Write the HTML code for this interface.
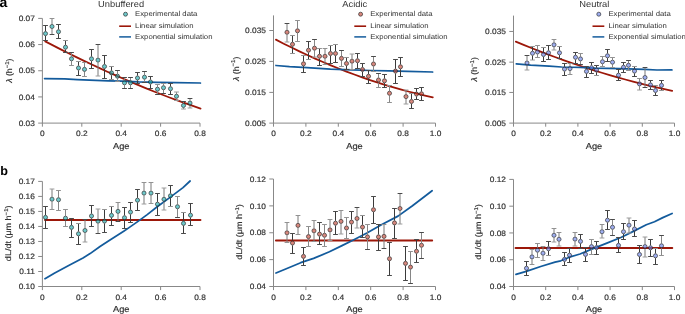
<!DOCTYPE html><html><head><meta charset="utf-8"><style>html,body{margin:0;padding:0;background:#fff;width:685px;height:314px;overflow:hidden}svg{display:block;will-change:transform}text{font-family:"Liberation Sans",sans-serif;text-rendering:geometricPrecision}</style></head><body>
<svg width="685" height="314" viewBox="0 0 685 314">
<rect width="685" height="314" fill="#fff"/>
<g fill="#000" font-weight="bold">
<text transform="translate(-0.40,6.80)" font-size="14.0">a</text>
<text transform="translate(0.20,175.10)" font-size="12.6">b</text>
</g>
<g stroke="#888888" stroke-width="1" fill="none">
<path d="M42.4,18.4V123.1M41.9,123.1H200.0"/>
<path d="M42.40,123.1v3.6"/>
<path d="M81.80,123.1v3.6"/>
<path d="M121.20,123.1v3.6"/>
<path d="M160.60,123.1v3.6"/>
<path d="M200.00,123.1v3.6"/>
<path d="M42.4,123.10h-4.2"/>
<path d="M42.4,96.92h-4.2"/>
<path d="M42.4,70.75h-4.2"/>
<path d="M42.4,44.57h-4.2"/>
<path d="M42.4,18.40h-4.2"/>
</g>
<g fill="#333333" stroke="#333333" stroke-width="0.18">
<text transform="translate(42.40,136.30) scale(1.07,1)" text-anchor="middle" font-size="7.8">0</text>
<text transform="translate(81.80,136.30) scale(1.07,1)" text-anchor="middle" font-size="7.8">0.2</text>
<text transform="translate(121.20,136.30) scale(1.07,1)" text-anchor="middle" font-size="7.8">0.4</text>
<text transform="translate(160.60,136.30) scale(1.07,1)" text-anchor="middle" font-size="7.8">0.6</text>
<text transform="translate(200.00,136.30) scale(1.07,1)" text-anchor="middle" font-size="7.8">0.8</text>
<text transform="translate(34.90,125.80) scale(1.07,1)" text-anchor="end" font-size="7.8">0.03</text>
<text transform="translate(34.90,99.62) scale(1.07,1)" text-anchor="end" font-size="7.8">0.04</text>
<text transform="translate(34.90,73.45) scale(1.07,1)" text-anchor="end" font-size="7.8">0.05</text>
<text transform="translate(34.90,47.27) scale(1.07,1)" text-anchor="end" font-size="7.8">0.06</text>
<text transform="translate(34.90,21.10) scale(1.07,1)" text-anchor="end" font-size="7.8">0.07</text>
<text transform="translate(121.20,148.60) scale(1.08,1)" text-anchor="middle" font-size="8.6">Age</text>
<text transform="translate(12.20,70.70) rotate(-90) scale(1.07,1)" text-anchor="middle" font-size="8.2"><tspan font-style="italic">λ</tspan> (h<tspan font-size="5.6" dy="-3.1">−1</tspan><tspan dy="3.1">)</tspan></text>
</g>
<path d="M45.20,41.35L52.97,45.40L60.74,49.37L68.51,53.27L76.28,57.10L84.05,60.86L91.82,64.55L99.59,68.16L107.36,71.70L115.13,75.17L122.90,78.57L130.67,81.90L138.44,85.15L146.21,88.33L153.98,91.44L161.75,94.48L169.52,97.45L177.29,100.34L185.06,103.16L192.83,105.92L200.60,108.59" stroke="#9c1709" stroke-width="1.75" stroke-linecap="round" stroke-linejoin="round" fill="none"/><path d="M44.6,78.6L64.8,78.9L77.2,79.6L89.6,80.1L108.2,80.8L121.9,81.1L138.6,81.9L157.2,82.3L175.8,82.6L200.4,83.0" stroke="#135b9c" stroke-width="1.75" stroke-linecap="round" stroke-linejoin="round" fill="none"/>
<path d="M45.5,25.5V31.25M45.5,35.95V40.5" stroke="#3a3a3a" stroke-width="1" fill="none"/>
<path d="M43.10,25.5h4.8" stroke="#4a4a4a" stroke-width="1" fill="none"/>
<path d="M43.10,40.5h4.8" stroke="#4a4a4a" stroke-width="1" fill="none"/>
<path d="M52.0,18.5V24.15M52.0,28.85V34.5" stroke="#787878" stroke-width="1" fill="none"/>
<path d="M49.60,18.5h4.8" stroke="#929292" stroke-width="1" fill="none"/>
<path d="M49.60,34.5h4.8" stroke="#4a4a4a" stroke-width="1" fill="none"/>
<path d="M58.5,24.5V29.35M58.5,34.05V38.5" stroke="#3a3a3a" stroke-width="1" fill="none"/>
<path d="M56.10,24.5h4.8" stroke="#4a4a4a" stroke-width="1" fill="none"/>
<path d="M56.10,38.5h4.8" stroke="#4a4a4a" stroke-width="1" fill="none"/>
<path d="M65.5,40.5V44.85M65.5,49.55V52.5" stroke="#3a3a3a" stroke-width="1" fill="none"/>
<path d="M63.10,40.5h4.8" stroke="#929292" stroke-width="1" fill="none"/>
<path d="M63.10,52.5h4.8" stroke="#4a4a4a" stroke-width="1" fill="none"/>
<path d="M71.5,52.5V56.45M71.5,61.15V65.5" stroke="#868686" stroke-width="1" fill="none"/>
<path d="M69.10,52.5h4.8" stroke="#4a4a4a" stroke-width="1" fill="none"/>
<path d="M69.10,65.5h4.8" stroke="#929292" stroke-width="1" fill="none"/>
<path d="M78.5,61.5V65.65M78.5,70.35V75.5" stroke="#3a3a3a" stroke-width="1" fill="none"/>
<path d="M76.10,61.5h4.8" stroke="#929292" stroke-width="1" fill="none"/>
<path d="M76.10,75.5h4.8" stroke="#4a4a4a" stroke-width="1" fill="none"/>
<path d="M84.5,62.5V67.05M84.5,71.75V76.5" stroke="#868686" stroke-width="1" fill="none"/>
<path d="M82.10,62.5h4.8" stroke="#929292" stroke-width="1" fill="none"/>
<path d="M82.10,76.5h4.8" stroke="#929292" stroke-width="1" fill="none"/>
<path d="M91.5,49.5V56.45M91.5,61.15V68.5" stroke="#3a3a3a" stroke-width="1" fill="none"/>
<path d="M89.10,49.5h4.8" stroke="#4a4a4a" stroke-width="1" fill="none"/>
<path d="M89.10,68.5h4.8" stroke="#4a4a4a" stroke-width="1" fill="none"/>
<path d="M98.0,44.5V57.75M98.0,62.45V76.0" stroke="#787878" stroke-width="1" fill="none"/>
<path d="M95.60,44.5h4.8" stroke="#4a4a4a" stroke-width="1" fill="none"/>
<path d="M95.60,76.0h4.8" stroke="#9c9c9c" stroke-width="1" fill="none"/>
<path d="M104.5,55.5V64.15M104.5,68.85V78.5" stroke="#3a3a3a" stroke-width="1" fill="none"/>
<path d="M102.10,55.5h4.8" stroke="#4a4a4a" stroke-width="1" fill="none"/>
<path d="M102.10,78.5h4.8" stroke="#4a4a4a" stroke-width="1" fill="none"/>
<path d="M111.5,66.5V70.55M111.5,75.25V79.5" stroke="#3a3a3a" stroke-width="1" fill="none"/>
<path d="M109.10,66.5h4.8" stroke="#929292" stroke-width="1" fill="none"/>
<path d="M109.10,79.5h4.8" stroke="#929292" stroke-width="1" fill="none"/>
<path d="M117.5,70.5V73.85M117.5,78.55V81.5" stroke="#868686" stroke-width="1" fill="none"/>
<path d="M115.10,70.5h4.8" stroke="#4a4a4a" stroke-width="1" fill="none"/>
<path d="M115.10,81.5h4.8" stroke="#929292" stroke-width="1" fill="none"/>
<path d="M124.5,77.5V80.45M124.5,85.15V88.5" stroke="#868686" stroke-width="1" fill="none"/>
<path d="M122.10,77.5h4.8" stroke="#4a4a4a" stroke-width="1" fill="none"/>
<path d="M122.10,88.5h4.8" stroke="#4a4a4a" stroke-width="1" fill="none"/>
<path d="M130.5,77.5V80.45M130.5,85.15V88.5" stroke="#868686" stroke-width="1" fill="none"/>
<path d="M128.10,77.5h4.8" stroke="#4a4a4a" stroke-width="1" fill="none"/>
<path d="M128.10,88.5h4.8" stroke="#4a4a4a" stroke-width="1" fill="none"/>
<path d="M137.5,72.5V75.65M137.5,80.35V83.5" stroke="#3a3a3a" stroke-width="1" fill="none"/>
<path d="M135.10,72.5h4.8" stroke="#4a4a4a" stroke-width="1" fill="none"/>
<path d="M135.10,83.5h4.8" stroke="#4a4a4a" stroke-width="1" fill="none"/>
<path d="M144.5,71.5V74.85M144.5,79.55V82.5" stroke="#868686" stroke-width="1" fill="none"/>
<path d="M142.10,71.5h4.8" stroke="#4a4a4a" stroke-width="1" fill="none"/>
<path d="M142.10,82.5h4.8" stroke="#4a4a4a" stroke-width="1" fill="none"/>
<path d="M150.5,76.5V79.65M150.5,84.35V88.5" stroke="#3a3a3a" stroke-width="1" fill="none"/>
<path d="M148.10,76.5h4.8" stroke="#4a4a4a" stroke-width="1" fill="none"/>
<path d="M148.10,88.5h4.8" stroke="#4a4a4a" stroke-width="1" fill="none"/>
<path d="M157.5,84.5V86.85M157.5,91.55V94.5" stroke="#868686" stroke-width="1" fill="none"/>
<path d="M155.10,84.5h4.8" stroke="#929292" stroke-width="1" fill="none"/>
<path d="M155.10,94.5h4.8" stroke="#4a4a4a" stroke-width="1" fill="none"/>
<path d="M163.5,83.5V85.35M163.5,90.05V93.5" stroke="#868686" stroke-width="1" fill="none"/>
<path d="M161.10,83.5h4.8" stroke="#929292" stroke-width="1" fill="none"/>
<path d="M161.10,93.5h4.8" stroke="#4a4a4a" stroke-width="1" fill="none"/>
<path d="M170.5,83.5V86.35M170.5,91.05V94.5" stroke="#3a3a3a" stroke-width="1" fill="none"/>
<path d="M168.10,83.5h4.8" stroke="#4a4a4a" stroke-width="1" fill="none"/>
<path d="M168.10,94.5h4.8" stroke="#4a4a4a" stroke-width="1" fill="none"/>
<path d="M176.5,92.0V93.95M176.5,98.65V100.5" stroke="#868686" stroke-width="1" fill="none"/>
<path d="M174.10,92.0h4.8" stroke="#9c9c9c" stroke-width="1" fill="none"/>
<path d="M174.10,100.5h4.8" stroke="#929292" stroke-width="1" fill="none"/>
<path d="M183.5,101.5V103.15M183.5,107.85V109.0" stroke="#868686" stroke-width="1" fill="none"/>
<path d="M181.10,101.5h4.8" stroke="#4a4a4a" stroke-width="1" fill="none"/>
<path d="M181.10,109.0h4.8" stroke="#9c9c9c" stroke-width="1" fill="none"/>
<path d="M190.0,98.5V100.75M190.0,105.45V108.0" stroke="#787878" stroke-width="1" fill="none"/>
<path d="M187.60,98.5h4.8" stroke="#4a4a4a" stroke-width="1" fill="none"/>
<path d="M187.60,108.0h4.8" stroke="#9c9c9c" stroke-width="1" fill="none"/>
<g fill="#15a6aa" fill-opacity="0.62" stroke="#262626" stroke-width="0.65">
<circle cx="45.5" cy="33.6" r="2.05"/>
<circle cx="52.0" cy="26.5" r="2.05"/>
<circle cx="58.5" cy="31.7" r="2.05"/>
<circle cx="65.5" cy="47.2" r="2.05"/>
<circle cx="71.5" cy="58.8" r="2.05"/>
<circle cx="78.5" cy="68.0" r="2.05"/>
<circle cx="84.5" cy="69.4" r="2.05"/>
<circle cx="91.5" cy="58.8" r="2.05"/>
<circle cx="98.0" cy="60.1" r="2.05"/>
<circle cx="104.5" cy="66.5" r="2.05"/>
<circle cx="111.5" cy="72.9" r="2.05"/>
<circle cx="117.5" cy="76.2" r="2.05"/>
<circle cx="124.5" cy="82.8" r="2.05"/>
<circle cx="130.5" cy="82.8" r="2.05"/>
<circle cx="137.5" cy="78.0" r="2.05"/>
<circle cx="144.5" cy="77.2" r="2.05"/>
<circle cx="150.5" cy="82.0" r="2.05"/>
<circle cx="157.5" cy="89.2" r="2.05"/>
<circle cx="163.5" cy="87.7" r="2.05"/>
<circle cx="170.5" cy="88.7" r="2.05"/>
<circle cx="176.5" cy="96.3" r="2.05"/>
<circle cx="183.5" cy="105.5" r="2.05"/>
<circle cx="190.0" cy="103.1" r="2.05"/>
</g>
<g fill="#333333">
<text transform="translate(121.10,6.90) scale(1.06,1)" text-anchor="middle" font-size="8.8">Unbuffered</text>
<text transform="translate(135.10,16.20) scale(1.09,1)" font-size="7.1">Experimental data</text>
<text transform="translate(135.10,28.30) scale(1.09,1)" font-size="7.1">Linear simulation</text>
<text transform="translate(135.10,39.10) scale(1.09,1)" font-size="7.1">Exponential simulation</text>
</g>
<circle cx="125.5" cy="14.2" r="2.0" fill="#15a6aa" fill-opacity="0.62" stroke="#262626" stroke-width="0.65"/>
<path d="M119.2,26.2h11.8" stroke="#9c1709" stroke-width="1.6"/>
<path d="M119.2,36.9h11.8" stroke="#135b9c" stroke-width="1.5"/>
<g stroke="#888888" stroke-width="1" fill="none">
<path d="M273.5,15.4V123.1M273.0,123.1H435.5"/>
<path d="M273.50,123.1v3.6"/>
<path d="M305.90,123.1v3.6"/>
<path d="M338.30,123.1v3.6"/>
<path d="M370.70,123.1v3.6"/>
<path d="M403.10,123.1v3.6"/>
<path d="M435.50,123.1v3.6"/>
<path d="M273.5,123.10h-4.2"/>
<path d="M273.5,92.40h-4.2"/>
<path d="M273.5,61.40h-4.2"/>
<path d="M273.5,30.50h-4.2"/>
</g>
<g fill="#333333" stroke="#333333" stroke-width="0.18">
<text transform="translate(273.50,136.30) scale(1.07,1)" text-anchor="middle" font-size="7.8">0</text>
<text transform="translate(305.90,136.30) scale(1.07,1)" text-anchor="middle" font-size="7.8">0.2</text>
<text transform="translate(338.30,136.30) scale(1.07,1)" text-anchor="middle" font-size="7.8">0.4</text>
<text transform="translate(370.70,136.30) scale(1.07,1)" text-anchor="middle" font-size="7.8">0.6</text>
<text transform="translate(403.10,136.30) scale(1.07,1)" text-anchor="middle" font-size="7.8">0.8</text>
<text transform="translate(435.50,136.30) scale(1.07,1)" text-anchor="middle" font-size="7.8">1.0</text>
<text transform="translate(266.00,125.80) scale(1.07,1)" text-anchor="end" font-size="7.8">0.005</text>
<text transform="translate(266.00,95.10) scale(1.07,1)" text-anchor="end" font-size="7.8">0.015</text>
<text transform="translate(266.00,64.10) scale(1.07,1)" text-anchor="end" font-size="7.8">0.025</text>
<text transform="translate(266.00,33.20) scale(1.07,1)" text-anchor="end" font-size="7.8">0.035</text>
<text transform="translate(354.50,148.60) scale(1.08,1)" text-anchor="middle" font-size="8.6">Age</text>
<text transform="translate(238.50,68.80) rotate(-90) scale(1.07,1)" text-anchor="middle" font-size="8.2"><tspan font-style="italic">λ</tspan> (h<tspan font-size="5.6" dy="-3.1">−1</tspan><tspan dy="3.1">)</tspan></text>
</g>
<path d="M275.90,39.63L283.75,43.66L291.59,47.58L299.44,51.38L307.28,55.05L315.12,58.60L322.97,62.03L330.81,65.34L338.66,68.53L346.50,71.60L354.35,74.54L362.19,77.36L370.04,80.06L377.88,82.64L385.73,85.10L393.57,87.44L401.42,89.65L409.26,91.74L417.11,93.72L424.96,95.57L432.80,97.29" stroke="#9c1709" stroke-width="1.75" stroke-linecap="round" stroke-linejoin="round" fill="none"/><path d="M276,65.5L289.5,66.7L307,67.6L330.4,69.2L352,69.8L370.6,70.5L389.2,70.9L407.8,71.4L432.6,72" stroke="#135b9c" stroke-width="1.75" stroke-linecap="round" stroke-linejoin="round" fill="none"/>
<path d="M287.0,23.5V29.95M287.0,34.65V42.0" stroke="#787878" stroke-width="1" fill="none"/>
<path d="M284.60,23.5h4.8" stroke="#4a4a4a" stroke-width="1" fill="none"/>
<path d="M284.60,42.0h4.8" stroke="#9c9c9c" stroke-width="1" fill="none"/>
<path d="M292.5,35.5V41.95M292.5,46.65V53.5" stroke="#3a3a3a" stroke-width="1" fill="none"/>
<path d="M290.10,35.5h4.8" stroke="#929292" stroke-width="1" fill="none"/>
<path d="M290.10,53.5h4.8" stroke="#929292" stroke-width="1" fill="none"/>
<path d="M297.5,20.5V28.45M297.5,33.15V41.5" stroke="#868686" stroke-width="1" fill="none"/>
<path d="M295.10,20.5h4.8" stroke="#929292" stroke-width="1" fill="none"/>
<path d="M295.10,41.5h4.8" stroke="#929292" stroke-width="1" fill="none"/>
<path d="M303.5,55.5V61.45M303.5,66.15V72.5" stroke="#3a3a3a" stroke-width="1" fill="none"/>
<path d="M301.10,55.5h4.8" stroke="#929292" stroke-width="1" fill="none"/>
<path d="M301.10,72.5h4.8" stroke="#4a4a4a" stroke-width="1" fill="none"/>
<path d="M308.5,41.5V47.85M308.5,52.55V59.5" stroke="#3a3a3a" stroke-width="1" fill="none"/>
<path d="M306.10,41.5h4.8" stroke="#4a4a4a" stroke-width="1" fill="none"/>
<path d="M306.10,59.5h4.8" stroke="#929292" stroke-width="1" fill="none"/>
<path d="M314.5,39.5V45.85M314.5,50.55V57.0" stroke="#868686" stroke-width="1" fill="none"/>
<path d="M312.10,39.5h4.8" stroke="#4a4a4a" stroke-width="1" fill="none"/>
<path d="M312.10,57.0h4.8" stroke="#9c9c9c" stroke-width="1" fill="none"/>
<path d="M319.5,48.5V53.95M319.5,58.65V65.5" stroke="#3a3a3a" stroke-width="1" fill="none"/>
<path d="M317.10,48.5h4.8" stroke="#929292" stroke-width="1" fill="none"/>
<path d="M317.10,65.5h4.8" stroke="#4a4a4a" stroke-width="1" fill="none"/>
<path d="M325.0,48.5V53.95M325.0,58.65V64.5" stroke="#787878" stroke-width="1" fill="none"/>
<path d="M322.60,48.5h4.8" stroke="#929292" stroke-width="1" fill="none"/>
<path d="M322.60,64.5h4.8" stroke="#929292" stroke-width="1" fill="none"/>
<path d="M330.5,45.5V51.15M330.5,55.85V63.5" stroke="#3a3a3a" stroke-width="1" fill="none"/>
<path d="M328.10,45.5h4.8" stroke="#929292" stroke-width="1" fill="none"/>
<path d="M328.10,63.5h4.8" stroke="#4a4a4a" stroke-width="1" fill="none"/>
<path d="M335.5,44.5V51.15M335.5,55.85V62.5" stroke="#3a3a3a" stroke-width="1" fill="none"/>
<path d="M333.10,44.5h4.8" stroke="#929292" stroke-width="1" fill="none"/>
<path d="M333.10,62.5h4.8" stroke="#4a4a4a" stroke-width="1" fill="none"/>
<path d="M341.5,50.5V56.05M341.5,60.75V66.5" stroke="#868686" stroke-width="1" fill="none"/>
<path d="M339.10,50.5h4.8" stroke="#4a4a4a" stroke-width="1" fill="none"/>
<path d="M339.10,66.5h4.8" stroke="#929292" stroke-width="1" fill="none"/>
<path d="M346.5,57.5V61.15M346.5,65.85V69.5" stroke="#3a3a3a" stroke-width="1" fill="none"/>
<path d="M344.10,57.5h4.8" stroke="#929292" stroke-width="1" fill="none"/>
<path d="M344.10,69.5h4.8" stroke="#4a4a4a" stroke-width="1" fill="none"/>
<path d="M352.0,54.0V58.85M352.0,63.55V69.5" stroke="#787878" stroke-width="1" fill="none"/>
<path d="M349.60,54.0h4.8" stroke="#9c9c9c" stroke-width="1" fill="none"/>
<path d="M349.60,69.5h4.8" stroke="#929292" stroke-width="1" fill="none"/>
<path d="M357.5,53.5V58.35M357.5,63.05V68.5" stroke="#3a3a3a" stroke-width="1" fill="none"/>
<path d="M355.10,53.5h4.8" stroke="#4a4a4a" stroke-width="1" fill="none"/>
<path d="M355.10,68.5h4.8" stroke="#4a4a4a" stroke-width="1" fill="none"/>
<path d="M362.5,63.5V67.15M362.5,71.85V76.5" stroke="#3a3a3a" stroke-width="1" fill="none"/>
<path d="M360.10,63.5h4.8" stroke="#4a4a4a" stroke-width="1" fill="none"/>
<path d="M360.10,76.5h4.8" stroke="#4a4a4a" stroke-width="1" fill="none"/>
<path d="M368.5,70.5V73.95M368.5,78.65V83.5" stroke="#3a3a3a" stroke-width="1" fill="none"/>
<path d="M366.10,70.5h4.8" stroke="#4a4a4a" stroke-width="1" fill="none"/>
<path d="M366.10,83.5h4.8" stroke="#4a4a4a" stroke-width="1" fill="none"/>
<path d="M373.5,56.5V61.65M373.5,66.35V71.5" stroke="#868686" stroke-width="1" fill="none"/>
<path d="M371.10,56.5h4.8" stroke="#4a4a4a" stroke-width="1" fill="none"/>
<path d="M371.10,71.5h4.8" stroke="#929292" stroke-width="1" fill="none"/>
<path d="M378.5,73.5V77.65M378.5,82.35V87.5" stroke="#868686" stroke-width="1" fill="none"/>
<path d="M376.10,73.5h4.8" stroke="#4a4a4a" stroke-width="1" fill="none"/>
<path d="M376.10,87.5h4.8" stroke="#929292" stroke-width="1" fill="none"/>
<path d="M384.5,74.5V78.45M384.5,83.15V87.5" stroke="#3a3a3a" stroke-width="1" fill="none"/>
<path d="M382.10,74.5h4.8" stroke="#4a4a4a" stroke-width="1" fill="none"/>
<path d="M382.10,87.5h4.8" stroke="#4a4a4a" stroke-width="1" fill="none"/>
<path d="M389.5,85.5V90.95M389.5,95.65V102.5" stroke="#868686" stroke-width="1" fill="none"/>
<path d="M387.10,85.5h4.8" stroke="#929292" stroke-width="1" fill="none"/>
<path d="M387.10,102.5h4.8" stroke="#929292" stroke-width="1" fill="none"/>
<path d="M395.5,59.5V68.75M395.5,73.45V83.5" stroke="#3a3a3a" stroke-width="1" fill="none"/>
<path d="M393.10,59.5h4.8" stroke="#4a4a4a" stroke-width="1" fill="none"/>
<path d="M393.10,83.5h4.8" stroke="#4a4a4a" stroke-width="1" fill="none"/>
<path d="M400.5,57.5V64.45M400.5,69.15V76.5" stroke="#3a3a3a" stroke-width="1" fill="none"/>
<path d="M398.10,57.5h4.8" stroke="#4a4a4a" stroke-width="1" fill="none"/>
<path d="M398.10,76.5h4.8" stroke="#4a4a4a" stroke-width="1" fill="none"/>
<path d="M406.0,90.0V94.25M406.0,98.95V104.0" stroke="#787878" stroke-width="1" fill="none"/>
<path d="M403.60,90.0h4.8" stroke="#9c9c9c" stroke-width="1" fill="none"/>
<path d="M403.60,104.0h4.8" stroke="#9c9c9c" stroke-width="1" fill="none"/>
<path d="M411.5,93.5V99.15M411.5,103.85V108.5" stroke="#3a3a3a" stroke-width="1" fill="none"/>
<path d="M409.10,93.5h4.8" stroke="#929292" stroke-width="1" fill="none"/>
<path d="M409.10,108.5h4.8" stroke="#4a4a4a" stroke-width="1" fill="none"/>
<path d="M416.5,88.5V91.75M416.5,96.45V99.5" stroke="#3a3a3a" stroke-width="1" fill="none"/>
<path d="M414.10,88.5h4.8" stroke="#4a4a4a" stroke-width="1" fill="none"/>
<path d="M414.10,99.5h4.8" stroke="#4a4a4a" stroke-width="1" fill="none"/>
<path d="M421.5,87.5V91.45M421.5,96.15V100.5" stroke="#3a3a3a" stroke-width="1" fill="none"/>
<path d="M419.10,87.5h4.8" stroke="#4a4a4a" stroke-width="1" fill="none"/>
<path d="M419.10,100.5h4.8" stroke="#4a4a4a" stroke-width="1" fill="none"/>
<g fill="#be3d2d" fill-opacity="0.62" stroke="#262626" stroke-width="0.65">
<circle cx="287.0" cy="32.3" r="2.05"/>
<circle cx="292.5" cy="44.3" r="2.05"/>
<circle cx="297.5" cy="30.8" r="2.05"/>
<circle cx="303.5" cy="63.8" r="2.05"/>
<circle cx="308.5" cy="50.2" r="2.05"/>
<circle cx="314.5" cy="48.2" r="2.05"/>
<circle cx="319.5" cy="56.3" r="2.05"/>
<circle cx="325.0" cy="56.3" r="2.05"/>
<circle cx="330.5" cy="53.5" r="2.05"/>
<circle cx="335.5" cy="53.5" r="2.05"/>
<circle cx="341.5" cy="58.4" r="2.05"/>
<circle cx="346.5" cy="63.5" r="2.05"/>
<circle cx="352.0" cy="61.2" r="2.05"/>
<circle cx="357.5" cy="60.7" r="2.05"/>
<circle cx="362.5" cy="69.5" r="2.05"/>
<circle cx="368.5" cy="76.3" r="2.05"/>
<circle cx="373.5" cy="64.0" r="2.05"/>
<circle cx="378.5" cy="80.0" r="2.05"/>
<circle cx="384.5" cy="80.8" r="2.05"/>
<circle cx="389.5" cy="93.3" r="2.05"/>
<circle cx="395.5" cy="71.1" r="2.05"/>
<circle cx="400.5" cy="66.8" r="2.05"/>
<circle cx="406.0" cy="96.6" r="2.05"/>
<circle cx="411.5" cy="101.5" r="2.05"/>
<circle cx="416.5" cy="94.1" r="2.05"/>
<circle cx="421.5" cy="93.8" r="2.05"/>
</g>
<g fill="#333333">
<text transform="translate(354.70,6.90) scale(1.06,1)" text-anchor="middle" font-size="8.8">Acidic</text>
<text transform="translate(370.20,16.20) scale(1.09,1)" font-size="7.1">Experimental data</text>
<text transform="translate(370.20,28.30) scale(1.09,1)" font-size="7.1">Linear simulation</text>
<text transform="translate(370.20,39.10) scale(1.09,1)" font-size="7.1">Exponential simulation</text>
</g>
<circle cx="360.6" cy="14.2" r="2.0" fill="#be3d2d" fill-opacity="0.62" stroke="#262626" stroke-width="0.65"/>
<path d="M354.3,26.2h11.8" stroke="#9c1709" stroke-width="1.6"/>
<path d="M354.3,36.9h11.8" stroke="#135b9c" stroke-width="1.5"/>
<g stroke="#888888" stroke-width="1" fill="none">
<path d="M513.5,15.6V123.1M513.0,123.1H674.5"/>
<path d="M513.50,123.1v3.6"/>
<path d="M545.70,123.1v3.6"/>
<path d="M577.90,123.1v3.6"/>
<path d="M610.10,123.1v3.6"/>
<path d="M642.30,123.1v3.6"/>
<path d="M674.50,123.1v3.6"/>
<path d="M513.5,123.10h-4.2"/>
<path d="M513.5,92.45h-4.2"/>
<path d="M513.5,62.15h-4.2"/>
<path d="M513.5,31.45h-4.2"/>
</g>
<g fill="#333333" stroke="#333333" stroke-width="0.18">
<text transform="translate(513.50,136.30) scale(1.07,1)" text-anchor="middle" font-size="7.8">0</text>
<text transform="translate(545.70,136.30) scale(1.07,1)" text-anchor="middle" font-size="7.8">0.2</text>
<text transform="translate(577.90,136.30) scale(1.07,1)" text-anchor="middle" font-size="7.8">0.4</text>
<text transform="translate(610.10,136.30) scale(1.07,1)" text-anchor="middle" font-size="7.8">0.6</text>
<text transform="translate(642.30,136.30) scale(1.07,1)" text-anchor="middle" font-size="7.8">0.8</text>
<text transform="translate(674.50,136.30) scale(1.07,1)" text-anchor="middle" font-size="7.8">1.0</text>
<text transform="translate(506.00,125.80) scale(1.07,1)" text-anchor="end" font-size="7.8">0.005</text>
<text transform="translate(506.00,95.15) scale(1.07,1)" text-anchor="end" font-size="7.8">0.015</text>
<text transform="translate(506.00,64.85) scale(1.07,1)" text-anchor="end" font-size="7.8">0.025</text>
<text transform="translate(506.00,34.15) scale(1.07,1)" text-anchor="end" font-size="7.8">0.035</text>
<text transform="translate(594.00,148.60) scale(1.08,1)" text-anchor="middle" font-size="8.6">Age</text>
<text transform="translate(477.30,69.30) rotate(-90) scale(1.07,1)" text-anchor="middle" font-size="8.2"><tspan font-style="italic">λ</tspan> (h<tspan font-size="5.6" dy="-3.1">−1</tspan><tspan dy="3.1">)</tspan></text>
</g>
<path d="M515.80,41.66L523.62,44.89L531.44,48.04L539.26,51.11L547.08,54.09L554.90,57.00L562.72,59.82L570.54,62.57L578.36,65.23L586.18,67.81L594.00,70.31L601.82,72.73L609.64,75.07L617.46,77.33L625.28,79.51L633.10,81.61L640.92,83.62L648.74,85.56L656.56,87.41L664.38,89.19L672.20,90.88" stroke="#9c1709" stroke-width="1.75" stroke-linecap="round" stroke-linejoin="round" fill="none"/><path d="M516.3,63.9L530.6,65.2L549.2,66.2L561.6,67L580.2,67.4L595,68.2L619.8,68.6L644.6,69.3L657,70L671.9,69.9" stroke="#135b9c" stroke-width="1.75" stroke-linecap="round" stroke-linejoin="round" fill="none"/>
<path d="M527.0,55.5V60.65M527.0,65.35V70.0" stroke="#787878" stroke-width="1" fill="none"/>
<path d="M524.60,55.5h4.8" stroke="#4a4a4a" stroke-width="1" fill="none"/>
<path d="M524.60,70.0h4.8" stroke="#9c9c9c" stroke-width="1" fill="none"/>
<path d="M532.5,46.5V50.95M532.5,55.65V60.0" stroke="#3a3a3a" stroke-width="1" fill="none"/>
<path d="M530.10,46.5h4.8" stroke="#929292" stroke-width="1" fill="none"/>
<path d="M530.10,60.0h4.8" stroke="#9c9c9c" stroke-width="1" fill="none"/>
<path d="M537.5,45.5V49.65M537.5,54.35V57.5" stroke="#868686" stroke-width="1" fill="none"/>
<path d="M535.10,45.5h4.8" stroke="#929292" stroke-width="1" fill="none"/>
<path d="M535.10,57.5h4.8" stroke="#929292" stroke-width="1" fill="none"/>
<path d="M543.5,47.5V52.15M543.5,56.85V61.5" stroke="#3a3a3a" stroke-width="1" fill="none"/>
<path d="M541.10,47.5h4.8" stroke="#929292" stroke-width="1" fill="none"/>
<path d="M541.10,61.5h4.8" stroke="#4a4a4a" stroke-width="1" fill="none"/>
<path d="M548.5,45.5V50.45M548.5,55.15V59.5" stroke="#3a3a3a" stroke-width="1" fill="none"/>
<path d="M546.10,45.5h4.8" stroke="#4a4a4a" stroke-width="1" fill="none"/>
<path d="M546.10,59.5h4.8" stroke="#4a4a4a" stroke-width="1" fill="none"/>
<path d="M554.0,39.5V42.45M554.0,47.15V50.0" stroke="#787878" stroke-width="1" fill="none"/>
<path d="M551.60,39.5h4.8" stroke="#929292" stroke-width="1" fill="none"/>
<path d="M551.60,50.0h4.8" stroke="#9c9c9c" stroke-width="1" fill="none"/>
<path d="M559.5,46.5V50.45M559.5,55.15V58.5" stroke="#3a3a3a" stroke-width="1" fill="none"/>
<path d="M557.10,46.5h4.8" stroke="#929292" stroke-width="1" fill="none"/>
<path d="M557.10,58.5h4.8" stroke="#4a4a4a" stroke-width="1" fill="none"/>
<path d="M564.5,63.5V66.75M564.5,71.45V75.5" stroke="#3a3a3a" stroke-width="1" fill="none"/>
<path d="M562.10,63.5h4.8" stroke="#4a4a4a" stroke-width="1" fill="none"/>
<path d="M562.10,75.5h4.8" stroke="#4a4a4a" stroke-width="1" fill="none"/>
<path d="M570.0,63.5V66.25M570.0,70.95V74.5" stroke="#787878" stroke-width="1" fill="none"/>
<path d="M567.60,63.5h4.8" stroke="#929292" stroke-width="1" fill="none"/>
<path d="M567.60,74.5h4.8" stroke="#929292" stroke-width="1" fill="none"/>
<path d="M575.5,52.5V54.95M575.5,59.65V63.5" stroke="#3a3a3a" stroke-width="1" fill="none"/>
<path d="M573.10,52.5h4.8" stroke="#4a4a4a" stroke-width="1" fill="none"/>
<path d="M573.10,63.5h4.8" stroke="#4a4a4a" stroke-width="1" fill="none"/>
<path d="M580.5,53.5V56.55M580.5,61.25V64.5" stroke="#868686" stroke-width="1" fill="none"/>
<path d="M578.10,53.5h4.8" stroke="#929292" stroke-width="1" fill="none"/>
<path d="M578.10,64.5h4.8" stroke="#4a4a4a" stroke-width="1" fill="none"/>
<path d="M586.5,66.5V69.05M586.5,73.75V77.5" stroke="#3a3a3a" stroke-width="1" fill="none"/>
<path d="M584.10,66.5h4.8" stroke="#4a4a4a" stroke-width="1" fill="none"/>
<path d="M584.10,77.5h4.8" stroke="#4a4a4a" stroke-width="1" fill="none"/>
<path d="M591.5,62.5V65.35M591.5,70.05V73.5" stroke="#3a3a3a" stroke-width="1" fill="none"/>
<path d="M589.10,62.5h4.8" stroke="#4a4a4a" stroke-width="1" fill="none"/>
<path d="M589.10,73.5h4.8" stroke="#4a4a4a" stroke-width="1" fill="none"/>
<path d="M596.5,65.5V67.65M596.5,72.35V75.5" stroke="#3a3a3a" stroke-width="1" fill="none"/>
<path d="M594.10,65.5h4.8" stroke="#4a4a4a" stroke-width="1" fill="none"/>
<path d="M594.10,75.5h4.8" stroke="#929292" stroke-width="1" fill="none"/>
<path d="M602.5,56.5V59.35M602.5,64.05V66.5" stroke="#868686" stroke-width="1" fill="none"/>
<path d="M600.10,56.5h4.8" stroke="#929292" stroke-width="1" fill="none"/>
<path d="M600.10,66.5h4.8" stroke="#929292" stroke-width="1" fill="none"/>
<path d="M607.5,49.5V53.45M607.5,58.15V61.5" stroke="#3a3a3a" stroke-width="1" fill="none"/>
<path d="M605.10,49.5h4.8" stroke="#4a4a4a" stroke-width="1" fill="none"/>
<path d="M605.10,61.5h4.8" stroke="#4a4a4a" stroke-width="1" fill="none"/>
<path d="M612.5,57.5V59.85M612.5,64.55V67.5" stroke="#868686" stroke-width="1" fill="none"/>
<path d="M610.10,57.5h4.8" stroke="#929292" stroke-width="1" fill="none"/>
<path d="M610.10,67.5h4.8" stroke="#929292" stroke-width="1" fill="none"/>
<path d="M618.5,69.5V72.85M618.5,77.55V80.5" stroke="#3a3a3a" stroke-width="1" fill="none"/>
<path d="M616.10,69.5h4.8" stroke="#4a4a4a" stroke-width="1" fill="none"/>
<path d="M616.10,80.5h4.8" stroke="#4a4a4a" stroke-width="1" fill="none"/>
<path d="M623.5,62.5V64.95M623.5,69.65V72.5" stroke="#3a3a3a" stroke-width="1" fill="none"/>
<path d="M621.10,62.5h4.8" stroke="#4a4a4a" stroke-width="1" fill="none"/>
<path d="M621.10,72.5h4.8" stroke="#4a4a4a" stroke-width="1" fill="none"/>
<path d="M628.5,60.5V62.95M628.5,67.65V70.5" stroke="#868686" stroke-width="1" fill="none"/>
<path d="M626.10,60.5h4.8" stroke="#4a4a4a" stroke-width="1" fill="none"/>
<path d="M626.10,70.5h4.8" stroke="#929292" stroke-width="1" fill="none"/>
<path d="M634.5,66.5V68.75M634.5,73.45V76.5" stroke="#3a3a3a" stroke-width="1" fill="none"/>
<path d="M632.10,66.5h4.8" stroke="#929292" stroke-width="1" fill="none"/>
<path d="M632.10,76.5h4.8" stroke="#4a4a4a" stroke-width="1" fill="none"/>
<path d="M639.5,78.5V81.55M639.5,86.25V90.0" stroke="#868686" stroke-width="1" fill="none"/>
<path d="M637.10,78.5h4.8" stroke="#929292" stroke-width="1" fill="none"/>
<path d="M637.10,90.0h4.8" stroke="#9c9c9c" stroke-width="1" fill="none"/>
<path d="M645.0,67.5V75.15M645.0,79.85V87.5" stroke="#787878" stroke-width="1" fill="none"/>
<path d="M642.60,67.5h4.8" stroke="#4a4a4a" stroke-width="1" fill="none"/>
<path d="M642.60,87.5h4.8" stroke="#4a4a4a" stroke-width="1" fill="none"/>
<path d="M650.5,80.5V82.55M650.5,87.25V89.5" stroke="#3a3a3a" stroke-width="1" fill="none"/>
<path d="M648.10,80.5h4.8" stroke="#4a4a4a" stroke-width="1" fill="none"/>
<path d="M648.10,89.5h4.8" stroke="#4a4a4a" stroke-width="1" fill="none"/>
<path d="M655.5,85.5V88.15M655.5,92.85V95.5" stroke="#3a3a3a" stroke-width="1" fill="none"/>
<path d="M653.10,85.5h4.8" stroke="#929292" stroke-width="1" fill="none"/>
<path d="M653.10,95.5h4.8" stroke="#4a4a4a" stroke-width="1" fill="none"/>
<path d="M661.5,80.5V83.05M661.5,87.75V90.5" stroke="#3a3a3a" stroke-width="1" fill="none"/>
<path d="M659.10,80.5h4.8" stroke="#4a4a4a" stroke-width="1" fill="none"/>
<path d="M659.10,90.5h4.8" stroke="#929292" stroke-width="1" fill="none"/>
<g fill="#637ce7" fill-opacity="0.62" stroke="#262626" stroke-width="0.65">
<circle cx="527.0" cy="63.0" r="2.05"/>
<circle cx="532.5" cy="53.3" r="2.05"/>
<circle cx="537.5" cy="52.0" r="2.05"/>
<circle cx="543.5" cy="54.5" r="2.05"/>
<circle cx="548.5" cy="52.8" r="2.05"/>
<circle cx="554.0" cy="44.8" r="2.05"/>
<circle cx="559.5" cy="52.8" r="2.05"/>
<circle cx="564.5" cy="69.1" r="2.05"/>
<circle cx="570.0" cy="68.6" r="2.05"/>
<circle cx="575.5" cy="57.3" r="2.05"/>
<circle cx="580.5" cy="58.9" r="2.05"/>
<circle cx="586.5" cy="71.4" r="2.05"/>
<circle cx="591.5" cy="67.7" r="2.05"/>
<circle cx="596.5" cy="70.0" r="2.05"/>
<circle cx="602.5" cy="61.7" r="2.05"/>
<circle cx="607.5" cy="55.8" r="2.05"/>
<circle cx="612.5" cy="62.2" r="2.05"/>
<circle cx="618.5" cy="75.2" r="2.05"/>
<circle cx="623.5" cy="67.3" r="2.05"/>
<circle cx="628.5" cy="65.3" r="2.05"/>
<circle cx="634.5" cy="71.1" r="2.05"/>
<circle cx="639.5" cy="83.9" r="2.05"/>
<circle cx="645.0" cy="77.5" r="2.05"/>
<circle cx="650.5" cy="84.9" r="2.05"/>
<circle cx="655.5" cy="90.5" r="2.05"/>
<circle cx="661.5" cy="85.4" r="2.05"/>
</g>
<g fill="#333333">
<text transform="translate(594.30,6.90) scale(1.06,1)" text-anchor="middle" font-size="8.8">Neutral</text>
<text transform="translate(608.40,16.20) scale(1.09,1)" font-size="7.1">Experimental data</text>
<text transform="translate(608.40,28.30) scale(1.09,1)" font-size="7.1">Linear simulation</text>
<text transform="translate(608.40,39.10) scale(1.09,1)" font-size="7.1">Exponential simulation</text>
</g>
<circle cx="598.8" cy="14.2" r="2.0" fill="#637ce7" fill-opacity="0.62" stroke="#262626" stroke-width="0.65"/>
<path d="M592.5,26.2h11.8" stroke="#9c1709" stroke-width="1.6"/>
<path d="M592.5,36.9h11.8" stroke="#135b9c" stroke-width="1.5"/>
<g stroke="#888888" stroke-width="1" fill="none">
<path d="M42.4,181.4V286.5M41.9,286.5H200.0"/>
<path d="M42.40,286.5v3.6"/>
<path d="M81.80,286.5v3.6"/>
<path d="M121.20,286.5v3.6"/>
<path d="M160.60,286.5v3.6"/>
<path d="M200.00,286.5v3.6"/>
<path d="M42.4,286.50h-4.2"/>
<path d="M42.4,271.49h-4.2"/>
<path d="M42.4,256.47h-4.2"/>
<path d="M42.4,241.46h-4.2"/>
<path d="M42.4,226.44h-4.2"/>
<path d="M42.4,211.43h-4.2"/>
<path d="M42.4,196.42h-4.2"/>
<path d="M42.4,181.40h-4.2"/>
</g>
<g fill="#333333" stroke="#333333" stroke-width="0.18">
<text transform="translate(42.40,299.70) scale(1.07,1)" text-anchor="middle" font-size="7.8">0</text>
<text transform="translate(81.80,299.70) scale(1.07,1)" text-anchor="middle" font-size="7.8">0.2</text>
<text transform="translate(121.20,299.70) scale(1.07,1)" text-anchor="middle" font-size="7.8">0.4</text>
<text transform="translate(160.60,299.70) scale(1.07,1)" text-anchor="middle" font-size="7.8">0.6</text>
<text transform="translate(200.00,299.70) scale(1.07,1)" text-anchor="middle" font-size="7.8">0.8</text>
<text transform="translate(34.90,289.20) scale(1.07,1)" text-anchor="end" font-size="7.8">0.10</text>
<text transform="translate(34.90,274.19) scale(1.07,1)" text-anchor="end" font-size="7.8">0.11</text>
<text transform="translate(34.90,259.17) scale(1.07,1)" text-anchor="end" font-size="7.8">0.12</text>
<text transform="translate(34.90,244.16) scale(1.07,1)" text-anchor="end" font-size="7.8">0.13</text>
<text transform="translate(34.90,229.14) scale(1.07,1)" text-anchor="end" font-size="7.8">0.14</text>
<text transform="translate(34.90,214.13) scale(1.07,1)" text-anchor="end" font-size="7.8">0.15</text>
<text transform="translate(34.90,199.12) scale(1.07,1)" text-anchor="end" font-size="7.8">0.16</text>
<text transform="translate(34.90,184.10) scale(1.07,1)" text-anchor="end" font-size="7.8">0.17</text>
<text transform="translate(121.20,312.00) scale(1.08,1)" text-anchor="middle" font-size="8.6">Age</text>
<text transform="translate(11.20,233.30) rotate(-90) scale(1.1,1)" text-anchor="middle" font-size="8.2">dL/dt (μm h<tspan font-size="5.5" dy="-3">−1</tspan><tspan dy="3">)</tspan></text>
</g>
<path d="M45.00,220.00L200.50,220.00" stroke="#9c1709" stroke-width="1.9" stroke-linecap="round" stroke-linejoin="round" fill="none"/><path d="M45,278.7L54.3,273.2L68.7,265.6L83,258L90.1,253.6L100,246.5L110,239.9L123.7,231.3L129.4,227.4L138,221.4L147.2,214.6L157.2,206.8L168.7,198.4L183,187.6L190.1,181" stroke="#135b9c" stroke-width="1.75" stroke-linecap="round" stroke-linejoin="round" fill="none"/>
<path d="M45.5,206.5V215.05M45.5,219.75V228.5" stroke="#3a3a3a" stroke-width="1" fill="none"/>
<path d="M43.10,206.5h4.8" stroke="#4a4a4a" stroke-width="1" fill="none"/>
<path d="M43.10,228.5h4.8" stroke="#4a4a4a" stroke-width="1" fill="none"/>
<path d="M52.0,189.0V196.85M52.0,201.55V209.5" stroke="#787878" stroke-width="1" fill="none"/>
<path d="M49.60,189.0h4.8" stroke="#9c9c9c" stroke-width="1" fill="none"/>
<path d="M49.60,209.5h4.8" stroke="#929292" stroke-width="1" fill="none"/>
<path d="M58.5,190.5V197.35M58.5,202.05V210.5" stroke="#868686" stroke-width="1" fill="none"/>
<path d="M56.10,190.5h4.8" stroke="#929292" stroke-width="1" fill="none"/>
<path d="M56.10,210.5h4.8" stroke="#929292" stroke-width="1" fill="none"/>
<path d="M65.5,209.5V215.85M65.5,220.55V226.5" stroke="#868686" stroke-width="1" fill="none"/>
<path d="M63.10,209.5h4.8" stroke="#929292" stroke-width="1" fill="none"/>
<path d="M63.10,226.5h4.8" stroke="#929292" stroke-width="1" fill="none"/>
<path d="M71.5,218.5V225.05M71.5,229.75V237.5" stroke="#3a3a3a" stroke-width="1" fill="none"/>
<path d="M69.10,218.5h4.8" stroke="#4a4a4a" stroke-width="1" fill="none"/>
<path d="M69.10,237.5h4.8" stroke="#4a4a4a" stroke-width="1" fill="none"/>
<path d="M78.5,223.5V231.45M78.5,236.15V244.5" stroke="#3a3a3a" stroke-width="1" fill="none"/>
<path d="M76.10,223.5h4.8" stroke="#929292" stroke-width="1" fill="none"/>
<path d="M76.10,244.5h4.8" stroke="#4a4a4a" stroke-width="1" fill="none"/>
<path d="M85.0,219.5V228.15M85.0,232.85V242.0" stroke="#787878" stroke-width="1" fill="none"/>
<path d="M82.60,219.5h4.8" stroke="#4a4a4a" stroke-width="1" fill="none"/>
<path d="M82.60,242.0h4.8" stroke="#9c9c9c" stroke-width="1" fill="none"/>
<path d="M91.5,205.5V213.65M91.5,218.35V226.5" stroke="#3a3a3a" stroke-width="1" fill="none"/>
<path d="M89.10,205.5h4.8" stroke="#4a4a4a" stroke-width="1" fill="none"/>
<path d="M89.10,226.5h4.8" stroke="#4a4a4a" stroke-width="1" fill="none"/>
<path d="M98.0,209.0V218.85M98.0,223.55V233.5" stroke="#787878" stroke-width="1" fill="none"/>
<path d="M95.60,209.0h4.8" stroke="#9c9c9c" stroke-width="1" fill="none"/>
<path d="M95.60,233.5h4.8" stroke="#4a4a4a" stroke-width="1" fill="none"/>
<path d="M104.5,209.5V218.75M104.5,223.45V232.5" stroke="#3a3a3a" stroke-width="1" fill="none"/>
<path d="M102.10,209.5h4.8" stroke="#929292" stroke-width="1" fill="none"/>
<path d="M102.10,232.5h4.8" stroke="#4a4a4a" stroke-width="1" fill="none"/>
<path d="M111.5,206.5V213.05M111.5,217.75V225.5" stroke="#3a3a3a" stroke-width="1" fill="none"/>
<path d="M109.10,206.5h4.8" stroke="#929292" stroke-width="1" fill="none"/>
<path d="M109.10,225.5h4.8" stroke="#4a4a4a" stroke-width="1" fill="none"/>
<path d="M118.0,202.5V209.05M118.0,213.75V221.5" stroke="#787878" stroke-width="1" fill="none"/>
<path d="M115.60,202.5h4.8" stroke="#929292" stroke-width="1" fill="none"/>
<path d="M115.60,221.5h4.8" stroke="#4a4a4a" stroke-width="1" fill="none"/>
<path d="M124.5,207.5V215.35M124.5,220.05V228.5" stroke="#3a3a3a" stroke-width="1" fill="none"/>
<path d="M122.10,207.5h4.8" stroke="#4a4a4a" stroke-width="1" fill="none"/>
<path d="M122.10,228.5h4.8" stroke="#4a4a4a" stroke-width="1" fill="none"/>
<path d="M130.5,202.5V209.75M130.5,214.45V222.5" stroke="#3a3a3a" stroke-width="1" fill="none"/>
<path d="M128.10,202.5h4.8" stroke="#4a4a4a" stroke-width="1" fill="none"/>
<path d="M128.10,222.5h4.8" stroke="#4a4a4a" stroke-width="1" fill="none"/>
<path d="M137.5,189.5V197.85M137.5,202.55V210.5" stroke="#3a3a3a" stroke-width="1" fill="none"/>
<path d="M135.10,189.5h4.8" stroke="#4a4a4a" stroke-width="1" fill="none"/>
<path d="M135.10,210.5h4.8" stroke="#4a4a4a" stroke-width="1" fill="none"/>
<path d="M144.0,182.5V190.75M144.0,195.45V204.0" stroke="#787878" stroke-width="1" fill="none"/>
<path d="M141.60,182.5h4.8" stroke="#929292" stroke-width="1" fill="none"/>
<path d="M141.60,204.0h4.8" stroke="#9c9c9c" stroke-width="1" fill="none"/>
<path d="M151.0,182.5V190.75M151.0,195.45V203.5" stroke="#787878" stroke-width="1" fill="none"/>
<path d="M148.60,182.5h4.8" stroke="#929292" stroke-width="1" fill="none"/>
<path d="M148.60,203.5h4.8" stroke="#929292" stroke-width="1" fill="none"/>
<path d="M157.5,193.5V201.85M157.5,206.55V215.5" stroke="#3a3a3a" stroke-width="1" fill="none"/>
<path d="M155.10,193.5h4.8" stroke="#4a4a4a" stroke-width="1" fill="none"/>
<path d="M155.10,215.5h4.8" stroke="#4a4a4a" stroke-width="1" fill="none"/>
<path d="M164.0,188.0V196.95M164.0,201.65V210.0" stroke="#787878" stroke-width="1" fill="none"/>
<path d="M161.60,188.0h4.8" stroke="#9c9c9c" stroke-width="1" fill="none"/>
<path d="M161.60,210.0h4.8" stroke="#9c9c9c" stroke-width="1" fill="none"/>
<path d="M170.5,185.5V193.45M170.5,198.15V206.5" stroke="#3a3a3a" stroke-width="1" fill="none"/>
<path d="M168.10,185.5h4.8" stroke="#4a4a4a" stroke-width="1" fill="none"/>
<path d="M168.10,206.5h4.8" stroke="#929292" stroke-width="1" fill="none"/>
<path d="M177.5,196.5V204.35M177.5,209.05V217.5" stroke="#868686" stroke-width="1" fill="none"/>
<path d="M175.10,196.5h4.8" stroke="#929292" stroke-width="1" fill="none"/>
<path d="M175.10,217.5h4.8" stroke="#4a4a4a" stroke-width="1" fill="none"/>
<path d="M183.5,212.5V221.05M183.5,225.75V233.5" stroke="#3a3a3a" stroke-width="1" fill="none"/>
<path d="M181.10,212.5h4.8" stroke="#929292" stroke-width="1" fill="none"/>
<path d="M181.10,233.5h4.8" stroke="#4a4a4a" stroke-width="1" fill="none"/>
<path d="M190.5,203.5V212.85M190.5,217.55V225.5" stroke="#3a3a3a" stroke-width="1" fill="none"/>
<path d="M188.10,203.5h4.8" stroke="#4a4a4a" stroke-width="1" fill="none"/>
<path d="M188.10,225.5h4.8" stroke="#4a4a4a" stroke-width="1" fill="none"/>
<g fill="#15a6aa" fill-opacity="0.62" stroke="#262626" stroke-width="0.65">
<circle cx="45.5" cy="217.4" r="2.05"/>
<circle cx="52.0" cy="199.2" r="2.05"/>
<circle cx="58.5" cy="199.7" r="2.05"/>
<circle cx="65.5" cy="218.2" r="2.05"/>
<circle cx="71.5" cy="227.4" r="2.05"/>
<circle cx="78.5" cy="233.8" r="2.05"/>
<circle cx="85.0" cy="230.5" r="2.05"/>
<circle cx="91.5" cy="216.0" r="2.05"/>
<circle cx="98.0" cy="221.2" r="2.05"/>
<circle cx="104.5" cy="221.1" r="2.05"/>
<circle cx="111.5" cy="215.4" r="2.05"/>
<circle cx="118.0" cy="211.4" r="2.05"/>
<circle cx="124.5" cy="217.7" r="2.05"/>
<circle cx="130.5" cy="212.1" r="2.05"/>
<circle cx="137.5" cy="200.2" r="2.05"/>
<circle cx="144.0" cy="193.1" r="2.05"/>
<circle cx="151.0" cy="193.1" r="2.05"/>
<circle cx="157.5" cy="204.2" r="2.05"/>
<circle cx="164.0" cy="199.3" r="2.05"/>
<circle cx="170.5" cy="195.8" r="2.05"/>
<circle cx="177.5" cy="206.7" r="2.05"/>
<circle cx="183.5" cy="223.4" r="2.05"/>
<circle cx="190.5" cy="215.2" r="2.05"/>
</g>
<g stroke="#888888" stroke-width="1" fill="none">
<path d="M273.5,179.0V286.5M273.0,286.5H435.5"/>
<path d="M273.50,286.5v3.6"/>
<path d="M305.90,286.5v3.6"/>
<path d="M338.30,286.5v3.6"/>
<path d="M370.70,286.5v3.6"/>
<path d="M403.10,286.5v3.6"/>
<path d="M435.50,286.5v3.6"/>
<path d="M273.5,286.50h-4.2"/>
<path d="M273.5,259.62h-4.2"/>
<path d="M273.5,232.75h-4.2"/>
<path d="M273.5,205.88h-4.2"/>
<path d="M273.5,179.00h-4.2"/>
</g>
<g fill="#333333" stroke="#333333" stroke-width="0.18">
<text transform="translate(273.50,299.70) scale(1.07,1)" text-anchor="middle" font-size="7.8">0</text>
<text transform="translate(305.90,299.70) scale(1.07,1)" text-anchor="middle" font-size="7.8">0.2</text>
<text transform="translate(338.30,299.70) scale(1.07,1)" text-anchor="middle" font-size="7.8">0.4</text>
<text transform="translate(370.70,299.70) scale(1.07,1)" text-anchor="middle" font-size="7.8">0.6</text>
<text transform="translate(403.10,299.70) scale(1.07,1)" text-anchor="middle" font-size="7.8">0.8</text>
<text transform="translate(435.50,299.70) scale(1.07,1)" text-anchor="middle" font-size="7.8">1.0</text>
<text transform="translate(266.00,289.20) scale(1.07,1)" text-anchor="end" font-size="7.8">0.04</text>
<text transform="translate(266.00,262.32) scale(1.07,1)" text-anchor="end" font-size="7.8">0.06</text>
<text transform="translate(266.00,235.45) scale(1.07,1)" text-anchor="end" font-size="7.8">0.08</text>
<text transform="translate(266.00,208.57) scale(1.07,1)" text-anchor="end" font-size="7.8">0.10</text>
<text transform="translate(266.00,181.70) scale(1.07,1)" text-anchor="end" font-size="7.8">0.12</text>
<text transform="translate(354.50,312.00) scale(1.08,1)" text-anchor="middle" font-size="8.6">Age</text>
<text transform="translate(242.10,232.00) rotate(-90) scale(1.1,1)" text-anchor="middle" font-size="8.2">dL/dt (μm h<tspan font-size="5.5" dy="-3">−1</tspan><tspan dy="3">)</tspan></text>
</g>
<path d="M275.90,240.50L432.20,240.50" stroke="#9c1709" stroke-width="1.9" stroke-linecap="round" stroke-linejoin="round" fill="none"/><path d="M276,273L286.3,268.7L300.7,262.7L313.6,258.4L329.4,251.8L342,245.6L352.4,240.5L366.9,233L381.4,224.8L398,216.1L412.5,205.7L432.1,190.8" stroke="#135b9c" stroke-width="1.75" stroke-linecap="round" stroke-linejoin="round" fill="none"/>
<path d="M287.0,222.5V230.45M287.0,235.15V242.5" stroke="#787878" stroke-width="1" fill="none"/>
<path d="M284.60,222.5h4.8" stroke="#929292" stroke-width="1" fill="none"/>
<path d="M284.60,242.5h4.8" stroke="#929292" stroke-width="1" fill="none"/>
<path d="M292.5,233.5V240.65M292.5,245.35V253.5" stroke="#3a3a3a" stroke-width="1" fill="none"/>
<path d="M290.10,233.5h4.8" stroke="#4a4a4a" stroke-width="1" fill="none"/>
<path d="M290.10,253.5h4.8" stroke="#4a4a4a" stroke-width="1" fill="none"/>
<path d="M298.0,215.5V223.05M298.0,227.75V234.5" stroke="#787878" stroke-width="1" fill="none"/>
<path d="M295.60,215.5h4.8" stroke="#929292" stroke-width="1" fill="none"/>
<path d="M295.60,234.5h4.8" stroke="#929292" stroke-width="1" fill="none"/>
<path d="M303.5,247.5V254.05M303.5,258.75V265.5" stroke="#3a3a3a" stroke-width="1" fill="none"/>
<path d="M301.10,247.5h4.8" stroke="#4a4a4a" stroke-width="1" fill="none"/>
<path d="M301.10,265.5h4.8" stroke="#4a4a4a" stroke-width="1" fill="none"/>
<path d="M308.5,226.5V234.25M308.5,238.95V246.5" stroke="#868686" stroke-width="1" fill="none"/>
<path d="M306.10,226.5h4.8" stroke="#929292" stroke-width="1" fill="none"/>
<path d="M306.10,246.5h4.8" stroke="#929292" stroke-width="1" fill="none"/>
<path d="M314.0,220.5V228.45M314.0,233.15V241.5" stroke="#787878" stroke-width="1" fill="none"/>
<path d="M311.60,220.5h4.8" stroke="#929292" stroke-width="1" fill="none"/>
<path d="M311.60,241.5h4.8" stroke="#929292" stroke-width="1" fill="none"/>
<path d="M319.5,222.5V231.75M319.5,236.45V244.5" stroke="#3a3a3a" stroke-width="1" fill="none"/>
<path d="M317.10,222.5h4.8" stroke="#4a4a4a" stroke-width="1" fill="none"/>
<path d="M317.10,244.5h4.8" stroke="#4a4a4a" stroke-width="1" fill="none"/>
<path d="M324.5,224.5V232.95M324.5,237.65V246.5" stroke="#868686" stroke-width="1" fill="none"/>
<path d="M322.10,224.5h4.8" stroke="#929292" stroke-width="1" fill="none"/>
<path d="M322.10,246.5h4.8" stroke="#929292" stroke-width="1" fill="none"/>
<path d="M330.0,219.5V227.55M330.0,232.25V240.5" stroke="#787878" stroke-width="1" fill="none"/>
<path d="M327.60,219.5h4.8" stroke="#929292" stroke-width="1" fill="none"/>
<path d="M327.60,240.5h4.8" stroke="#929292" stroke-width="1" fill="none"/>
<path d="M335.5,211.5V220.85M335.5,225.55V234.5" stroke="#3a3a3a" stroke-width="1" fill="none"/>
<path d="M333.10,211.5h4.8" stroke="#4a4a4a" stroke-width="1" fill="none"/>
<path d="M333.10,234.5h4.8" stroke="#4a4a4a" stroke-width="1" fill="none"/>
<path d="M341.0,210.5V219.05M341.0,223.75V234.0" stroke="#787878" stroke-width="1" fill="none"/>
<path d="M338.60,210.5h4.8" stroke="#929292" stroke-width="1" fill="none"/>
<path d="M338.60,234.0h4.8" stroke="#9c9c9c" stroke-width="1" fill="none"/>
<path d="M346.5,217.5V225.65M346.5,230.35V238.5" stroke="#868686" stroke-width="1" fill="none"/>
<path d="M344.10,217.5h4.8" stroke="#929292" stroke-width="1" fill="none"/>
<path d="M344.10,238.5h4.8" stroke="#929292" stroke-width="1" fill="none"/>
<path d="M351.5,211.5V219.75M351.5,224.45V233.5" stroke="#3a3a3a" stroke-width="1" fill="none"/>
<path d="M349.10,211.5h4.8" stroke="#4a4a4a" stroke-width="1" fill="none"/>
<path d="M349.10,233.5h4.8" stroke="#4a4a4a" stroke-width="1" fill="none"/>
<path d="M357.0,207.5V216.15M357.0,220.85V228.0" stroke="#787878" stroke-width="1" fill="none"/>
<path d="M354.60,207.5h4.8" stroke="#4a4a4a" stroke-width="1" fill="none"/>
<path d="M354.60,228.0h4.8" stroke="#9c9c9c" stroke-width="1" fill="none"/>
<path d="M362.5,215.5V224.75M362.5,229.45V237.5" stroke="#3a3a3a" stroke-width="1" fill="none"/>
<path d="M360.10,215.5h4.8" stroke="#929292" stroke-width="1" fill="none"/>
<path d="M360.10,237.5h4.8" stroke="#4a4a4a" stroke-width="1" fill="none"/>
<path d="M367.5,224.5V234.55M367.5,239.25V249.5" stroke="#868686" stroke-width="1" fill="none"/>
<path d="M365.10,224.5h4.8" stroke="#929292" stroke-width="1" fill="none"/>
<path d="M365.10,249.5h4.8" stroke="#4a4a4a" stroke-width="1" fill="none"/>
<path d="M373.5,196.5V207.35M373.5,212.05V223.5" stroke="#3a3a3a" stroke-width="1" fill="none"/>
<path d="M371.10,196.5h4.8" stroke="#4a4a4a" stroke-width="1" fill="none"/>
<path d="M371.10,223.5h4.8" stroke="#4a4a4a" stroke-width="1" fill="none"/>
<path d="M378.5,224.5V234.55M378.5,239.25V250.5" stroke="#3a3a3a" stroke-width="1" fill="none"/>
<path d="M376.10,224.5h4.8" stroke="#4a4a4a" stroke-width="1" fill="none"/>
<path d="M376.10,250.5h4.8" stroke="#4a4a4a" stroke-width="1" fill="none"/>
<path d="M384.0,224.5V234.05M384.0,238.75V248.5" stroke="#787878" stroke-width="1" fill="none"/>
<path d="M381.60,224.5h4.8" stroke="#929292" stroke-width="1" fill="none"/>
<path d="M381.60,248.5h4.8" stroke="#4a4a4a" stroke-width="1" fill="none"/>
<path d="M389.5,242.5V256.35M389.5,261.05V275.5" stroke="#3a3a3a" stroke-width="1" fill="none"/>
<path d="M387.10,242.5h4.8" stroke="#4a4a4a" stroke-width="1" fill="none"/>
<path d="M387.10,275.5h4.8" stroke="#4a4a4a" stroke-width="1" fill="none"/>
<path d="M394.5,208.5V220.55M394.5,225.25V238.5" stroke="#3a3a3a" stroke-width="1" fill="none"/>
<path d="M392.10,208.5h4.8" stroke="#4a4a4a" stroke-width="1" fill="none"/>
<path d="M392.10,238.5h4.8" stroke="#4a4a4a" stroke-width="1" fill="none"/>
<path d="M400.0,193.5V206.15M400.0,210.85V224.0" stroke="#787878" stroke-width="1" fill="none"/>
<path d="M397.60,193.5h4.8" stroke="#4a4a4a" stroke-width="1" fill="none"/>
<path d="M397.60,224.0h4.8" stroke="#9c9c9c" stroke-width="1" fill="none"/>
<path d="M405.5,246.5V261.05M405.5,265.75V280.5" stroke="#3a3a3a" stroke-width="1" fill="none"/>
<path d="M403.10,246.5h4.8" stroke="#4a4a4a" stroke-width="1" fill="none"/>
<path d="M403.10,280.5h4.8" stroke="#4a4a4a" stroke-width="1" fill="none"/>
<path d="M410.5,251.5V264.75M410.5,269.45V283.5" stroke="#868686" stroke-width="1" fill="none"/>
<path d="M408.10,251.5h4.8" stroke="#929292" stroke-width="1" fill="none"/>
<path d="M408.10,283.5h4.8" stroke="#4a4a4a" stroke-width="1" fill="none"/>
<path d="M416.5,239.5V248.95M416.5,253.65V262.5" stroke="#3a3a3a" stroke-width="1" fill="none"/>
<path d="M414.10,239.5h4.8" stroke="#4a4a4a" stroke-width="1" fill="none"/>
<path d="M414.10,262.5h4.8" stroke="#4a4a4a" stroke-width="1" fill="none"/>
<path d="M421.5,232.5V242.95M421.5,247.65V258.5" stroke="#868686" stroke-width="1" fill="none"/>
<path d="M419.10,232.5h4.8" stroke="#4a4a4a" stroke-width="1" fill="none"/>
<path d="M419.10,258.5h4.8" stroke="#4a4a4a" stroke-width="1" fill="none"/>
<g fill="#be3d2d" fill-opacity="0.62" stroke="#262626" stroke-width="0.65">
<circle cx="287.0" cy="232.8" r="2.05"/>
<circle cx="292.5" cy="243.0" r="2.05"/>
<circle cx="298.0" cy="225.4" r="2.05"/>
<circle cx="303.5" cy="256.4" r="2.05"/>
<circle cx="308.5" cy="236.6" r="2.05"/>
<circle cx="314.0" cy="230.8" r="2.05"/>
<circle cx="319.5" cy="234.1" r="2.05"/>
<circle cx="324.5" cy="235.3" r="2.05"/>
<circle cx="330.0" cy="229.9" r="2.05"/>
<circle cx="335.5" cy="223.2" r="2.05"/>
<circle cx="341.0" cy="221.4" r="2.05"/>
<circle cx="346.5" cy="228.0" r="2.05"/>
<circle cx="351.5" cy="222.1" r="2.05"/>
<circle cx="357.0" cy="218.5" r="2.05"/>
<circle cx="362.5" cy="227.1" r="2.05"/>
<circle cx="367.5" cy="236.9" r="2.05"/>
<circle cx="373.5" cy="209.7" r="2.05"/>
<circle cx="378.5" cy="236.9" r="2.05"/>
<circle cx="384.0" cy="236.4" r="2.05"/>
<circle cx="389.5" cy="258.7" r="2.05"/>
<circle cx="394.5" cy="222.9" r="2.05"/>
<circle cx="400.0" cy="208.5" r="2.05"/>
<circle cx="405.5" cy="263.4" r="2.05"/>
<circle cx="410.5" cy="267.1" r="2.05"/>
<circle cx="416.5" cy="251.3" r="2.05"/>
<circle cx="421.5" cy="245.3" r="2.05"/>
</g>
<g stroke="#888888" stroke-width="1" fill="none">
<path d="M513.5,179.4V286.5M513.0,286.5H674.5"/>
<path d="M513.50,286.5v3.6"/>
<path d="M545.70,286.5v3.6"/>
<path d="M577.90,286.5v3.6"/>
<path d="M610.10,286.5v3.6"/>
<path d="M642.30,286.5v3.6"/>
<path d="M674.50,286.5v3.6"/>
<path d="M513.5,286.50h-4.2"/>
<path d="M513.5,259.73h-4.2"/>
<path d="M513.5,232.95h-4.2"/>
<path d="M513.5,206.18h-4.2"/>
<path d="M513.5,179.40h-4.2"/>
</g>
<g fill="#333333" stroke="#333333" stroke-width="0.18">
<text transform="translate(513.50,299.70) scale(1.07,1)" text-anchor="middle" font-size="7.8">0</text>
<text transform="translate(545.70,299.70) scale(1.07,1)" text-anchor="middle" font-size="7.8">0.2</text>
<text transform="translate(577.90,299.70) scale(1.07,1)" text-anchor="middle" font-size="7.8">0.4</text>
<text transform="translate(610.10,299.70) scale(1.07,1)" text-anchor="middle" font-size="7.8">0.6</text>
<text transform="translate(642.30,299.70) scale(1.07,1)" text-anchor="middle" font-size="7.8">0.8</text>
<text transform="translate(674.50,299.70) scale(1.07,1)" text-anchor="middle" font-size="7.8">1.0</text>
<text transform="translate(506.00,289.20) scale(1.07,1)" text-anchor="end" font-size="7.8">0.04</text>
<text transform="translate(506.00,262.43) scale(1.07,1)" text-anchor="end" font-size="7.8">0.06</text>
<text transform="translate(506.00,235.65) scale(1.07,1)" text-anchor="end" font-size="7.8">0.08</text>
<text transform="translate(506.00,208.88) scale(1.07,1)" text-anchor="end" font-size="7.8">0.10</text>
<text transform="translate(506.00,182.10) scale(1.07,1)" text-anchor="end" font-size="7.8">0.12</text>
<text transform="translate(594.00,312.00) scale(1.08,1)" text-anchor="middle" font-size="8.6">Age</text>
<text transform="translate(480.50,232.00) rotate(-90) scale(1.1,1)" text-anchor="middle" font-size="8.2">dL/dt (μm h<tspan font-size="5.5" dy="-3">−1</tspan><tspan dy="3">)</tspan></text>
</g>
<path d="M515.50,248.00L672.30,248.00" stroke="#9c1709" stroke-width="1.9" stroke-linecap="round" stroke-linejoin="round" fill="none"/><path d="M516,274.4L526.3,271.3L540.7,266.5L555,262.2L560.8,260.8L569.4,257.2L580,254L592.4,248.9L606.9,243.1L621.4,237.3L633.8,231.1L646.3,224.8L654.5,221.7L662.8,217.6L672.1,213.5" stroke="#135b9c" stroke-width="1.75" stroke-linecap="round" stroke-linejoin="round" fill="none"/>
<path d="M526.5,261.5V265.95M526.5,270.65V275.5" stroke="#3a3a3a" stroke-width="1" fill="none"/>
<path d="M524.10,261.5h4.8" stroke="#4a4a4a" stroke-width="1" fill="none"/>
<path d="M524.10,275.5h4.8" stroke="#4a4a4a" stroke-width="1" fill="none"/>
<path d="M532.0,249.5V254.55M532.0,259.25V264.5" stroke="#787878" stroke-width="1" fill="none"/>
<path d="M529.60,249.5h4.8" stroke="#929292" stroke-width="1" fill="none"/>
<path d="M529.60,264.5h4.8" stroke="#929292" stroke-width="1" fill="none"/>
<path d="M537.5,243.5V247.85M537.5,252.55V257.5" stroke="#868686" stroke-width="1" fill="none"/>
<path d="M535.10,243.5h4.8" stroke="#929292" stroke-width="1" fill="none"/>
<path d="M535.10,257.5h4.8" stroke="#929292" stroke-width="1" fill="none"/>
<path d="M543.0,246.5V250.85M543.0,255.55V260.5" stroke="#787878" stroke-width="1" fill="none"/>
<path d="M540.60,246.5h4.8" stroke="#929292" stroke-width="1" fill="none"/>
<path d="M540.60,260.5h4.8" stroke="#929292" stroke-width="1" fill="none"/>
<path d="M548.5,241.5V246.35M548.5,251.05V255.5" stroke="#3a3a3a" stroke-width="1" fill="none"/>
<path d="M546.10,241.5h4.8" stroke="#4a4a4a" stroke-width="1" fill="none"/>
<path d="M546.10,255.5h4.8" stroke="#929292" stroke-width="1" fill="none"/>
<path d="M554.0,228.5V232.95M554.0,237.65V242.0" stroke="#787878" stroke-width="1" fill="none"/>
<path d="M551.60,228.5h4.8" stroke="#929292" stroke-width="1" fill="none"/>
<path d="M551.60,242.0h4.8" stroke="#9c9c9c" stroke-width="1" fill="none"/>
<path d="M559.0,232.5V236.95M559.0,241.65V246.0" stroke="#787878" stroke-width="1" fill="none"/>
<path d="M556.60,232.5h4.8" stroke="#929292" stroke-width="1" fill="none"/>
<path d="M556.60,246.0h4.8" stroke="#9c9c9c" stroke-width="1" fill="none"/>
<path d="M564.5,252.5V257.05M564.5,261.75V265.5" stroke="#3a3a3a" stroke-width="1" fill="none"/>
<path d="M562.10,252.5h4.8" stroke="#4a4a4a" stroke-width="1" fill="none"/>
<path d="M562.10,265.5h4.8" stroke="#4a4a4a" stroke-width="1" fill="none"/>
<path d="M569.5,248.5V252.85M569.5,257.55V262.5" stroke="#3a3a3a" stroke-width="1" fill="none"/>
<path d="M567.10,248.5h4.8" stroke="#4a4a4a" stroke-width="1" fill="none"/>
<path d="M567.10,262.5h4.8" stroke="#4a4a4a" stroke-width="1" fill="none"/>
<path d="M575.0,232.5V236.75M575.0,241.45V246.0" stroke="#787878" stroke-width="1" fill="none"/>
<path d="M572.60,232.5h4.8" stroke="#929292" stroke-width="1" fill="none"/>
<path d="M572.60,246.0h4.8" stroke="#9c9c9c" stroke-width="1" fill="none"/>
<path d="M580.5,234.5V239.05M580.5,243.75V248.5" stroke="#3a3a3a" stroke-width="1" fill="none"/>
<path d="M578.10,234.5h4.8" stroke="#4a4a4a" stroke-width="1" fill="none"/>
<path d="M578.10,248.5h4.8" stroke="#4a4a4a" stroke-width="1" fill="none"/>
<path d="M585.5,247.5V252.05M585.5,256.75V261.5" stroke="#3a3a3a" stroke-width="1" fill="none"/>
<path d="M583.10,247.5h4.8" stroke="#4a4a4a" stroke-width="1" fill="none"/>
<path d="M583.10,261.5h4.8" stroke="#4a4a4a" stroke-width="1" fill="none"/>
<path d="M591.5,239.5V244.25M591.5,248.95V254.5" stroke="#868686" stroke-width="1" fill="none"/>
<path d="M589.10,239.5h4.8" stroke="#929292" stroke-width="1" fill="none"/>
<path d="M589.10,254.5h4.8" stroke="#929292" stroke-width="1" fill="none"/>
<path d="M596.5,241.5V245.25M596.5,249.95V254.5" stroke="#3a3a3a" stroke-width="1" fill="none"/>
<path d="M594.10,241.5h4.8" stroke="#4a4a4a" stroke-width="1" fill="none"/>
<path d="M594.10,254.5h4.8" stroke="#4a4a4a" stroke-width="1" fill="none"/>
<path d="M602.0,224.5V229.35M602.0,234.05V238.0" stroke="#787878" stroke-width="1" fill="none"/>
<path d="M599.60,224.5h4.8" stroke="#929292" stroke-width="1" fill="none"/>
<path d="M599.60,238.0h4.8" stroke="#9c9c9c" stroke-width="1" fill="none"/>
<path d="M607.5,210.5V217.85M607.5,222.55V229.5" stroke="#3a3a3a" stroke-width="1" fill="none"/>
<path d="M605.10,210.5h4.8" stroke="#4a4a4a" stroke-width="1" fill="none"/>
<path d="M605.10,229.5h4.8" stroke="#4a4a4a" stroke-width="1" fill="none"/>
<path d="M612.5,219.5V224.95M612.5,229.65V235.5" stroke="#868686" stroke-width="1" fill="none"/>
<path d="M610.10,219.5h4.8" stroke="#4a4a4a" stroke-width="1" fill="none"/>
<path d="M610.10,235.5h4.8" stroke="#4a4a4a" stroke-width="1" fill="none"/>
<path d="M618.5,237.5V243.05M618.5,247.75V252.5" stroke="#3a3a3a" stroke-width="1" fill="none"/>
<path d="M616.10,237.5h4.8" stroke="#4a4a4a" stroke-width="1" fill="none"/>
<path d="M616.10,252.5h4.8" stroke="#4a4a4a" stroke-width="1" fill="none"/>
<path d="M623.5,223.5V229.35M623.5,234.05V239.5" stroke="#3a3a3a" stroke-width="1" fill="none"/>
<path d="M621.10,223.5h4.8" stroke="#4a4a4a" stroke-width="1" fill="none"/>
<path d="M621.10,239.5h4.8" stroke="#4a4a4a" stroke-width="1" fill="none"/>
<path d="M629.0,218.0V222.85M629.0,227.55V233.0" stroke="#787878" stroke-width="1" fill="none"/>
<path d="M626.60,218.0h4.8" stroke="#9c9c9c" stroke-width="1" fill="none"/>
<path d="M626.60,233.0h4.8" stroke="#9c9c9c" stroke-width="1" fill="none"/>
<path d="M634.5,220.5V226.65M634.5,231.35V236.5" stroke="#3a3a3a" stroke-width="1" fill="none"/>
<path d="M632.10,220.5h4.8" stroke="#4a4a4a" stroke-width="1" fill="none"/>
<path d="M632.10,236.5h4.8" stroke="#4a4a4a" stroke-width="1" fill="none"/>
<path d="M639.5,245.5V252.15M639.5,256.85V263.5" stroke="#3a3a3a" stroke-width="1" fill="none"/>
<path d="M637.10,245.5h4.8" stroke="#4a4a4a" stroke-width="1" fill="none"/>
<path d="M637.10,263.5h4.8" stroke="#4a4a4a" stroke-width="1" fill="none"/>
<path d="M645.0,237.0V244.25M645.0,248.95V257.0" stroke="#787878" stroke-width="1" fill="none"/>
<path d="M642.60,237.0h4.8" stroke="#9c9c9c" stroke-width="1" fill="none"/>
<path d="M642.60,257.0h4.8" stroke="#9c9c9c" stroke-width="1" fill="none"/>
<path d="M650.5,239.5V245.45M650.5,250.15V256.5" stroke="#3a3a3a" stroke-width="1" fill="none"/>
<path d="M648.10,239.5h4.8" stroke="#4a4a4a" stroke-width="1" fill="none"/>
<path d="M648.10,256.5h4.8" stroke="#4a4a4a" stroke-width="1" fill="none"/>
<path d="M655.5,248.5V253.45M655.5,258.15V264.5" stroke="#3a3a3a" stroke-width="1" fill="none"/>
<path d="M653.10,248.5h4.8" stroke="#929292" stroke-width="1" fill="none"/>
<path d="M653.10,264.5h4.8" stroke="#4a4a4a" stroke-width="1" fill="none"/>
<path d="M661.5,235.5V243.45M661.5,248.15V255.5" stroke="#868686" stroke-width="1" fill="none"/>
<path d="M659.10,235.5h4.8" stroke="#4a4a4a" stroke-width="1" fill="none"/>
<path d="M659.10,255.5h4.8" stroke="#929292" stroke-width="1" fill="none"/>
<g fill="#637ce7" fill-opacity="0.62" stroke="#262626" stroke-width="0.65">
<circle cx="526.5" cy="268.3" r="2.05"/>
<circle cx="532.0" cy="256.9" r="2.05"/>
<circle cx="537.5" cy="250.2" r="2.05"/>
<circle cx="543.0" cy="253.2" r="2.05"/>
<circle cx="548.5" cy="248.7" r="2.05"/>
<circle cx="554.0" cy="235.3" r="2.05"/>
<circle cx="559.0" cy="239.3" r="2.05"/>
<circle cx="564.5" cy="259.4" r="2.05"/>
<circle cx="569.5" cy="255.2" r="2.05"/>
<circle cx="575.0" cy="239.1" r="2.05"/>
<circle cx="580.5" cy="241.4" r="2.05"/>
<circle cx="585.5" cy="254.4" r="2.05"/>
<circle cx="591.5" cy="246.6" r="2.05"/>
<circle cx="596.5" cy="247.6" r="2.05"/>
<circle cx="602.0" cy="231.7" r="2.05"/>
<circle cx="607.5" cy="220.2" r="2.05"/>
<circle cx="612.5" cy="227.3" r="2.05"/>
<circle cx="618.5" cy="245.4" r="2.05"/>
<circle cx="623.5" cy="231.7" r="2.05"/>
<circle cx="629.0" cy="225.2" r="2.05"/>
<circle cx="634.5" cy="229.0" r="2.05"/>
<circle cx="639.5" cy="254.5" r="2.05"/>
<circle cx="645.0" cy="246.6" r="2.05"/>
<circle cx="650.5" cy="247.8" r="2.05"/>
<circle cx="655.5" cy="255.8" r="2.05"/>
<circle cx="661.5" cy="245.8" r="2.05"/>
</g>
</svg></body></html>
